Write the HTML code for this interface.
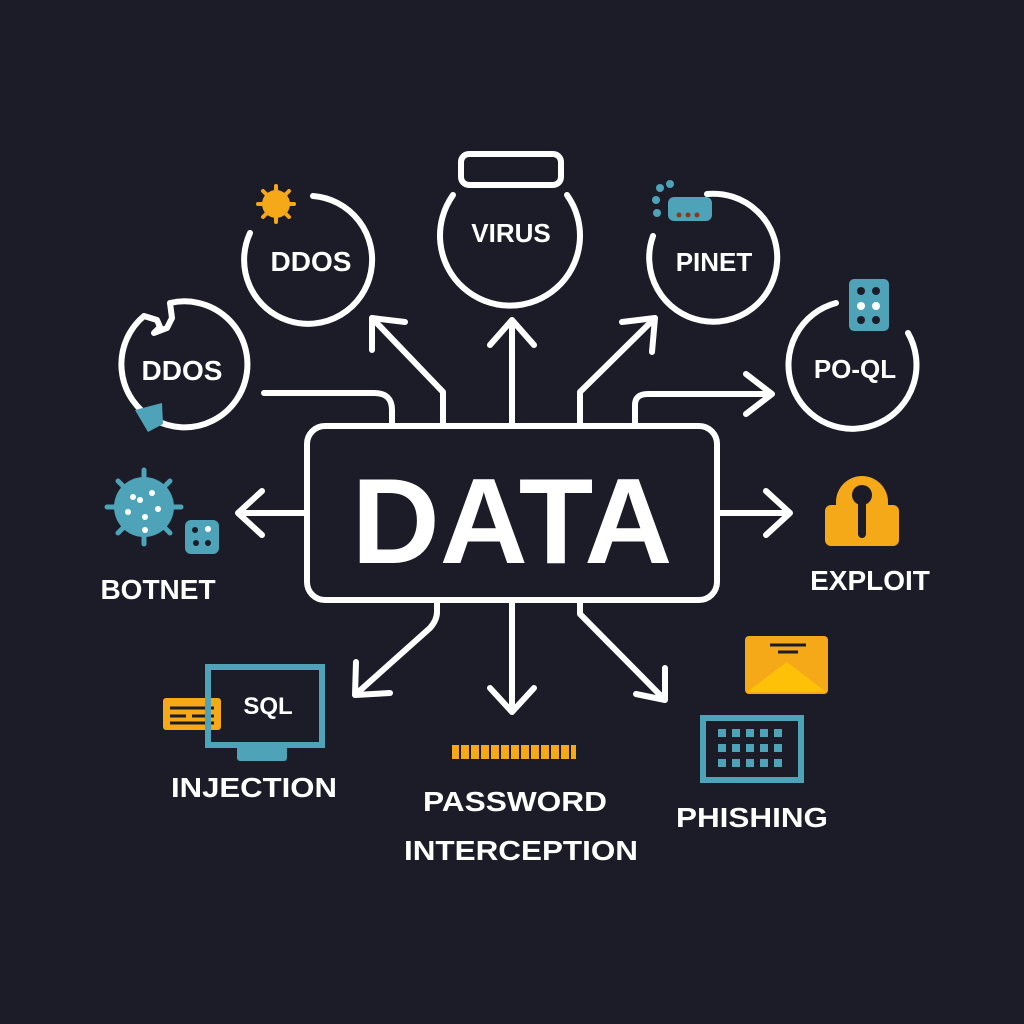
<!DOCTYPE html>
<html><head><meta charset="utf-8"><style>
html,body{margin:0;padding:0;background:#1b1c27;}
svg{display:block;}
text{font-family:"Liberation Sans",sans-serif;font-weight:bold;fill:#fff;text-anchor:middle;}
</style></head><body>
<svg width="1024" height="1024" viewBox="0 0 1024 1024" xmlns="http://www.w3.org/2000/svg">
<rect width="1024" height="1024" fill="#1b1c27"/>
<g fill="none" stroke="#fff" stroke-width="6" stroke-linecap="round" stroke-linejoin="round">
  <rect x="307" y="426" width="410" height="174" rx="18"/>
  <path d="M313,196 A64,64 0 1 1 250,233"/>
  <path d="M567,195 A70,70 0 1 1 453,195"/>
  <rect x="461" y="154" width="100" height="31" rx="8"/>
  <path d="M707,194 A64,64 0 1 1 653,236"/>
  <path d="M908,333 A64,64 0 1 1 836,303"/>
  <path d="M170,303 A63,63 0 1 1 144,316 L157,320 L160,327 L154,333 L167,328 L172,318 L170,303"/>
  <path d="M443,424 L443,392 L372,318"/>
  <path d="M372,318 L372,350 M372,318 L405,322"/>
  <path d="M512,424 L512,320 M490,345 L512,320 L534,345"/>
  <path d="M580,424 L580,392 L655,318 M622,322 L655,318 L652,352"/>
  <path d="M635,424 L635,405 Q635,394 648,394 L772,394 M746,374 L772,394 L746,414"/>
  <path d="M264,393 L374,393 Q392,393 392,410 L392,424"/>
  <path d="M305,513 L238,513 M262,491 L238,513 L262,535"/>
  <path d="M719,513 L790,513 M766,491 L790,513 L766,535"/>
  <path d="M437,602 L437,612 Q437,620 430,628 L355,695 M356,662 L355,695 L390,693"/>
  <path d="M512,602 L512,712 M490,688 L512,712 L534,688"/>
  <path d="M580,602 L580,614 L665,700 M665,668 L665,700 L636,694"/>
</g>
<text x="512" y="563" font-size="122">DATA</text>
<text x="311" y="271" font-size="28">DDOS</text>
<text x="511" y="242" font-size="26">VIRUS</text>
<text x="714" y="271" font-size="26">PINET</text>
<text x="855" y="378" font-size="26">PO-QL</text>
<text x="182" y="380" font-size="28">DDOS</text>
<text x="158" y="599" font-size="28">BOTNET</text>
<text x="870" y="590" font-size="28">EXPLOIT</text>
<text x="268" y="714" font-size="24">SQL</text>
<text x="254" y="797" font-size="28" textLength="166" lengthAdjust="spacingAndGlyphs">INJECTION</text>
<text x="515" y="811" font-size="28" textLength="184" lengthAdjust="spacingAndGlyphs">PASSWORD</text>
<text x="521" y="860" font-size="28" textLength="234" lengthAdjust="spacingAndGlyphs">INTERCEPTION</text>
<text x="752" y="827" font-size="28" textLength="152" lengthAdjust="spacingAndGlyphs">PHISHING</text>
<g fill="#f5a818">
  <circle cx="276" cy="204" r="14"/>
  <g stroke="#f5a818" stroke-width="4" stroke-linecap="round">
    <path d="M276,186 V190 M276,218 V222 M258,204 H262 M290,204 H294 M263,191 L266,194 M289,191 L286,194 M263,217 L266,214 M289,217 L286,214"/>
  </g>
  <path d="M836,502 A26,26 0 0 1 888,502 V520 H836 Z"/>
  <rect x="825" y="505" width="74" height="41" rx="6"/>
  <rect x="163" y="698" width="58" height="32" rx="3"/>
  <rect x="452" y="745" width="124" height="14"/>
  <rect x="745" y="636" width="83" height="58" rx="4"/>
</g>
<circle cx="862" cy="495" r="10" fill="#1b1c27"/>
<rect x="858" y="498" width="8" height="40" rx="4" fill="#1b1c27"/>
<g stroke="#1b1c27" stroke-width="3"><path d="M170,708 H214 M170,716 H186 M192,716 H214 M170,723 H214"/>
<path d="M460,745 V759 M470,745 V759 M480,745 V759 M490,745 V759 M500,745 V759 M510,745 V759 M520,745 V759 M530,745 V759 M540,745 V759 M550,745 V759 M560,745 V759 M570,745 V759" stroke-width="2"/>
<path d="M770,645 H806 M778,652 H798"/></g>
<path d="M747,692 L787,662 L826,692 Z" fill="#ffc107"/>
<g fill="#4fa3b8">
  <circle cx="144" cy="507" r="30"/>
  <g stroke="#4fa3b8" stroke-width="5" stroke-linecap="round"><path d="M144,470 V477 M144,537 V544 M107,507 H114 M174,507 H181 M118,481 L123,486 M170,481 L165,486 M118,533 L123,528 M170,533 L165,528"/></g>
  <rect x="185" y="520" width="34" height="34" rx="6"/>
  <rect x="668" y="197" width="44" height="24" rx="6"/>
  <circle cx="660" cy="188" r="4"/><circle cx="670" cy="184" r="4"/><circle cx="656" cy="200" r="4"/><circle cx="657" cy="213" r="4"/>
  <rect x="849" y="279" width="40" height="52" rx="5"/>
  <path d="M135,410 L162,403 L163,424 L148,432 Z"/>
</g>
<g fill="#fff"><circle cx="140" cy="500" r="3"/><circle cx="152" cy="493" r="3"/><circle cx="128" cy="512" r="3"/><circle cx="145" cy="517" r="3"/><circle cx="158" cy="509" r="3"/><circle cx="133" cy="497" r="3"/><circle cx="145" cy="530" r="3"/><circle cx="208" cy="529" r="3"/><circle cx="861" cy="306" r="4"/><circle cx="876" cy="306" r="4"/></g>
<g fill="#1b1c27"><circle cx="195" cy="530" r="3"/><circle cx="196" cy="543" r="3"/><circle cx="208" cy="543" r="3"/><circle cx="861" cy="291" r="4"/><circle cx="876" cy="291" r="4"/><circle cx="861" cy="320" r="4"/><circle cx="876" cy="320" r="4"/></g>
<g fill="#8a3a1c"><circle cx="679" cy="215" r="2.5"/><circle cx="688" cy="215" r="2.5"/><circle cx="697" cy="215" r="2.5"/></g>
<g fill="none" stroke="#4fa3b8" stroke-width="6">
  <rect x="208" y="667" width="114" height="78"/>
  <rect x="703" y="718" width="98" height="62"/>
</g>
<rect x="237" y="746" width="50" height="15" rx="3" fill="#4fa3b8"/>
<g fill="#4fa3b8">
  <rect x="718" y="729" width="8" height="8"/><rect x="732" y="729" width="8" height="8"/><rect x="746" y="729" width="8" height="8"/><rect x="760" y="729" width="8" height="8"/><rect x="774" y="729" width="8" height="8"/>
  <rect x="718" y="744" width="8" height="8"/><rect x="732" y="744" width="8" height="8"/><rect x="746" y="744" width="8" height="8"/><rect x="760" y="744" width="8" height="8"/><rect x="774" y="744" width="8" height="8"/>
  <rect x="718" y="759" width="8" height="8"/><rect x="732" y="759" width="8" height="8"/><rect x="746" y="759" width="8" height="8"/><rect x="760" y="759" width="8" height="8"/><rect x="774" y="759" width="8" height="8"/>
</g>
</svg>
</body></html>
